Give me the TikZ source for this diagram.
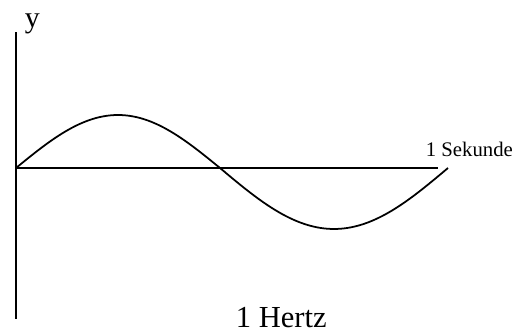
\documentclass[tikz,border=0pt]{standalone}
\usepackage{fontspec}
\setmainfont{Liberation Serif}
\usetikzlibrary{arrows.meta}
\begin{document}
\begin{tikzpicture}[x=0.02cm,y=-0.02cm,line width=1pt]
\useasboundingbox(0,0)rectangle(520,333);
\coordinate (o) at (16,168);
\coordinate (ytop) at (16,32);
\coordinate (ybot) at (16,319);
\coordinate (xend) at (438,168);
\draw(ybot)--(ytop);
\draw(o)--(xend);
% Sinus, eine Periode
\draw plot[domain=0:204,samples=60,smooth]({16+\x},{168-53*sin(\x/204*180)})
plot[domain=0:228,samples=60,smooth]({220+\x},{168+61*sin(\x/228*180)});
\node[anchor=base west,inner sep=0pt,font=\fontsize{17}{20}\selectfont](ylab) at (24,28){y};
\node[anchor=base west,inner sep=0pt,font=\fontsize{11.8}{14}\selectfont](sek) at (425,157){1 Sekunde};
\node[anchor=base west,inner sep=0pt,font=\fontsize{17.4}{21}\selectfont](hz) at (235,328){1 Hertz};
\end{tikzpicture}
\end{document}
